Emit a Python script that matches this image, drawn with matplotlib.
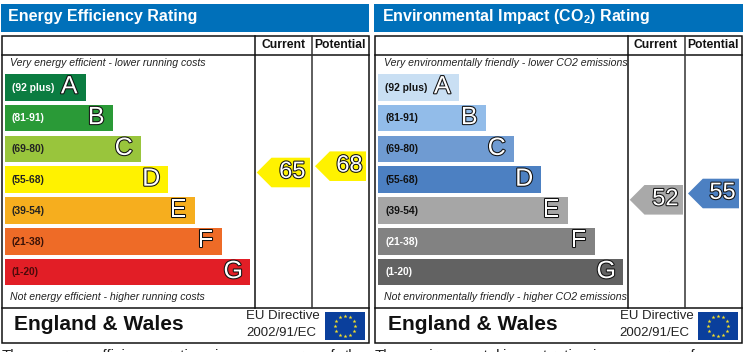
import matplotlib
matplotlib.use("Agg")
import matplotlib.pyplot as plt
import matplotlib.patheffects as pe
from matplotlib.patches import Rectangle, Polygon
import numpy as np

plt.rcParams['font.family'] = ['Liberation Sans', 'DejaVu Sans']
plt.rcParams['mathtext.fontset'] = 'custom'
plt.rcParams['mathtext.bf'] = 'Liberation Sans:bold'
plt.rcParams['mathtext.rm'] = 'Liberation Sans'

# ---- data ----
band_ranges = ["(92 plus)", "(81-91)", "(69-80)", "(55-68)", "(39-54)", "(21-38)", "(1-20)"]
band_letters = ["A", "B", "C", "D", "E", "F", "G"]
band_lengths = [81.5, 108.5, 136, 163.5, 190.5, 217.5, 245.5]

energy_colors = ["#0b7c41", "#2a9a37", "#99c53c", "#fff200", "#f6ae1e", "#ee6b27", "#e21e26"]
energy_label_colors = ["#ffffff", "#ffffff", "#222222", "#222222", "#222222", "#3a1208", "#4a0a0a"]
env_colors = ["#c9dff3", "#92bce9", "#6f9bd2", "#4c80c2", "#a6a6a6", "#828282", "#626262"]
env_label_colors = ["#111111", "#111111", "#111111", "#111111", "#111111", "#ffffff", "#ffffff"]

energy_current, energy_potential = 65, 68
env_current, env_potential = 52, 55
energy_current_color, energy_potential_color = "#fff200", "#fff200"
env_current_color, env_potential_color = "#a9a9a9", "#4c80c2"

W, H = 743, 352
fig = plt.figure(figsize=(W / 100, H / 100), dpi=100)
ax = fig.add_axes([0, 0, 1, 1])
ax.set_xlim(0, W)
ax.set_ylim(H, 0)
ax.axis("off")

BAR_H = 26.6
BAR_STEP = 30.8


def outline(text_obj, w=1.5):
    text_obj.set_path_effects([pe.withStroke(linewidth=w, foreground="#111111")])


def score_y(v):
    return 172.5 + (65 - v) * 2.1


def arrow(x0, x1, yc, col, val):
    hh = 14.8
    ax.add_patch(Polygon([(x1, yc - hh), (x0 + hh, yc - hh), (x0, yc), (x0 + hh, yc + hh), (x1, yc + hh)],
                         closed=True, fc=col, ec="none", zorder=3))
    t = ax.text((x0 + x1) / 2 + 9, yc - 0.6, str(val), fontsize=17, color="white",
                ha="center", va="center", zorder=4)
    outline(t, 1.5)


def spaced_line(x0, x1, y, sentence, size):
    """Lay a line out word by word so that it runs from x0 to x1 (justified text)."""
    renderer = fig.canvas.get_renderer()
    items = [ax.text(0, y, w, fontsize=size, color="#222222", va="baseline", ha="left", clip_on=False)
             for w in sentence.split()]
    widths = [it.get_window_extent(renderer).width for it in items]
    gap = (x1 - x0 - sum(widths)) / (len(items) - 1)
    x = x0
    for it, wd in zip(items, widths):
        it.set_x(x)
        x += wd + gap


def panel(ox, title, top_note, bottom_note, colors, label_colors, cur, pot, cur_c, pot_c, foot, width, foot_end):
    # header
    ax.add_patch(Rectangle((ox + 1, 4), width, 28, fc="#0070ba", ec="none"))
    ax.text(ox + 8.5, 17, title, fontsize=11.5, fontweight="bold", color="white", va="center", ha="left")
    # table
    lw = 1.1
    ax.add_patch(Rectangle((ox + 1.7, 35.8), 367, 306.8, fc="white", ec="#111111", lw=lw, zorder=1))
    ax.plot([ox + 1.7, ox + 368.7], [54.5, 54.5], color="#111111", lw=lw, zorder=2)
    ax.plot([ox + 1.7, ox + 368.7], [307.7, 307.7], color="#111111", lw=lw, zorder=2)
    ax.plot([ox + 254.5, ox + 254.5], [35.8, 307.7], color="#111111", lw=lw, zorder=2)
    ax.plot([ox + 312, ox + 312], [35.8, 307.7], color="#333333", lw=lw, zorder=2)
    ax.text(ox + 283, 45.3, "Current", fontsize=8.7, fontweight="bold", ha="center", va="center", color="#111111")
    ax.text(ox + 340.2, 45.3, "Potential", fontsize=8.7, fontweight="bold", ha="center", va="center", color="#111111")
    ax.text(ox + 10.5, 63.5, top_note, fontsize=7.55, style="italic", color="#222222", va="center", zorder=3)
    ax.text(ox + 10.5, 296.5, bottom_note, fontsize=7.55, style="italic", color="#222222", va="center", zorder=3)
    # bars
    ys = [74 + i * BAR_STEP + BAR_H / 2 for i in range(len(band_lengths))]
    ax.barh(ys, band_lengths, height=BAR_H, left=ox + 4.7, color=colors, edgecolor="none", zorder=2)
    for y, ln, rng, let, lc in zip(ys, band_lengths, band_ranges, band_letters, label_colors):
        ax.text(ox + 12, y + 0.3, rng, fontsize=7.4, fontweight="bold", color=lc, va="center", zorder=3)
        t = ax.text(ox + 4.7 + ln - 17, y - 1, let, fontsize=18, color="white", ha="center", va="center", zorder=3)
        outline(t, 1.5)
    # rating arrows
    arrow(ox + 256.7, ox + 310, score_y(cur), cur_c, cur)
    arrow(ox + 315, ox + 366, score_y(pot), pot_c, pot)
    # footer
    ax.text(ox + 14.5, 324.3, "England & Wales", fontsize=15.1, fontweight="bold", color="#111111", va="center")
    ax.text(ox + 246.5, 316, "EU Directive", fontsize=9.5, color="#222222", va="center")
    ax.text(ox + 246.5, 333, "2002/91/EC", fontsize=9.5, color="#222222", va="center")
    # EU flag
    fx0, fx1, fy0, fy1 = ox + 325, ox + 365, 311.5, 340
    ax.add_patch(Rectangle((fx0, fy0), fx1 - fx0, fy1 - fy0, fc="#0a3f9c", ec="none", zorder=2))
    ang = np.arange(12) * np.pi / 6
    ax.scatter((fx0 + fx1) / 2 + 10.2 * np.cos(ang), (fy0 + fy1) / 2 + 10.2 * np.sin(ang),
               marker="*", s=9, color="#f5e02a", linewidths=0, zorder=3)
    # paragraph line that the picture's lower edge cuts through
    spaced_line(ox + 2, ox + foot_end, 360, foot, 10.8)


panel(0, "Energy Efficiency Rating", "Very energy efficient - lower running costs",
      "Not energy efficient - higher running costs", energy_colors, energy_label_colors,
      energy_current, energy_potential, energy_current_color, energy_potential_color,
      "The energy efficiency rating is a measure of the", 368, 366)
panel(373, "Environmental Impact (CO$_\\mathbf{2}$) Rating", "Very environmentally friendly - lower CO2 emissions",
      "Not environmentally friendly - higher CO2 emissions", env_colors, env_label_colors,
      env_current, env_potential, env_current_color, env_potential_color,
      "The environmental impact rating is a measure of a", 369, 334)

fig.savefig("out.png", dpi=100)
